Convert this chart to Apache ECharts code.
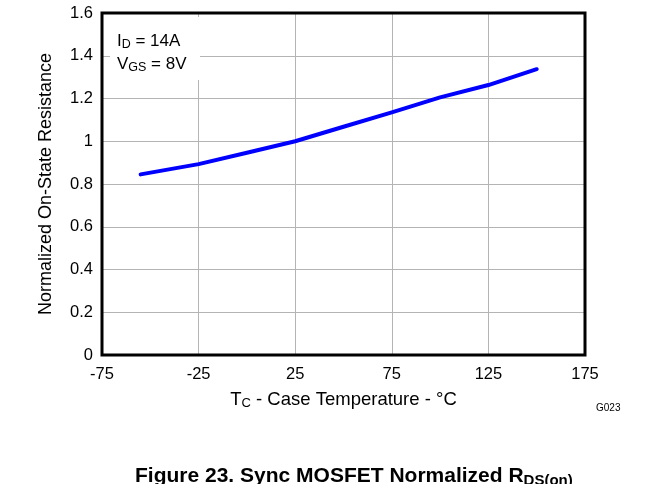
<!DOCTYPE html>
<html>
<head>
<meta charset="utf-8">
<script src="https://cdn.jsdelivr.net/npm/echarts@6/dist/echarts.min.js"></script>
<style>
html,body{margin:0;padding:0;background:#fff;}
#chart{width:652px;height:484px;}
</style>
</head>
<body>
<div id="chart"></div>
<script>
// Data
var temperatures = [-55, -25, 0, 25, 50, 75, 100, 125, 150];
var resistance = [0.845, 0.893, 0.946, 1.0, 1.068, 1.135, 1.205, 1.263, 1.337];
var xTicks = [-75, -25, 25, 75, 125, 175];
var yTicks = [0, 0.2, 0.4, 0.6, 0.8, 1, 1.2, 1.4, 1.6];

var G = {left: 102, right: 67, top: 13, bottom: 129};
var font = 'Liberation Sans, Arial, sans-serif';

var chart = echarts.init(document.getElementById('chart'), null, {renderer: 'canvas'});
var seriesData = temperatures.map(function (t, i) { return [t, resistance[i]]; });

chart.setOption({
  animation: false,
  backgroundColor: '#fff',
  grid: {left: G.left, right: G.right, top: G.top, bottom: G.bottom, containLabel: false},
  xAxis: {
    type: 'value', min: -75, max: 175, interval: 50,
    axisLine: {show: false}, axisTick: {show: false},
    splitLine: {show: true, lineStyle: {color: '#b4b4b4', width: 1}},
    axisLabel: {color: '#000', fontFamily: font, fontSize: 16.5, margin: 11,
      formatter: function (v) { return xTicks.indexOf(v) >= 0 ? String(v) : ''; }},
    name: '{n|T}{s|C}{n| - Case Temperature - °C}',
    nameLocation: 'middle', nameGap: 34,
    nameTextStyle: {rich: {
      n: {fontFamily: font, fontSize: 18.5, color: '#000'},
      s: {fontFamily: font, fontSize: 13, color: '#000', verticalAlign: 'bottom', padding: [8, 0, 0, 0]}
    }}
  },
  yAxis: {
    type: 'value', min: 0, max: 1.6, interval: 0.2,
    axisLine: {show: false}, axisTick: {show: false},
    splitLine: {show: true, lineStyle: {color: '#b4b4b4', width: 1}},
    axisLabel: {color: '#000', fontFamily: font, fontSize: 16.5, margin: 9,
      formatter: function (v) {
        var r = Math.round(v * 10) / 10;
        return yTicks.indexOf(r) >= 0 ? String(r) : '';
      }},
    name: 'Normalized On-State Resistance',
    nameLocation: 'middle', nameGap: 47, nameRotate: 90,
    nameTextStyle: {fontFamily: font, fontSize: 18, color: '#000'}
  },
  series: [{
    type: 'line', data: seriesData, showSymbol: false, smooth: false,
    lineStyle: {color: '#0000ff', width: 4, cap: 'round', join: 'round'},
    z: 3
  }],
  graphic: [
    {type: 'rect', z: 10, silent: true,
      shape: {x: G.left, y: G.top, width: 652 - G.left - G.right, height: 484 - G.top - G.bottom},
      style: {fill: 'none', stroke: '#000', lineWidth: 3}},
    {type: 'rect', z: 5, silent: true,
      shape: {x: 110, y: 17, width: 90, height: 63},
      style: {fill: '#fff'}},
    {type: 'text', z: 6, left: 117, top: 33, silent: true,
      style: {text: '{n|I}{s|D}{n| = 14A}', rich: {
        n: {fontFamily: font, fontSize: 17, fill: '#000'},
        s: {fontFamily: font, fontSize: 12.5, fill: '#000', verticalAlign: 'bottom', padding: [7, 0, 0, 0]}
      }}},
    {type: 'text', z: 6, left: 117, top: 56, silent: true,
      style: {text: '{n|V}{s|GS}{n| = 8V}', rich: {
        n: {fontFamily: font, fontSize: 17, fill: '#000'},
        s: {fontFamily: font, fontSize: 12.5, fill: '#000', verticalAlign: 'bottom', padding: [7, 0, 0, 0]}
      }}},
    {type: 'text', z: 6, left: 596, top: 403, silent: true,
      style: {text: 'G023', fontFamily: font, fontSize: 10, fill: '#000'}},
    {type: 'text', z: 6, left: 135, top: 466, silent: true,
      style: {text: '{n|Figure 23. Sync MOSFET Normalized R}{s|DS(on)}', rich: {
        n: {fontFamily: font, fontSize: 21, fontWeight: 'bold', fill: '#000'},
        s: {fontFamily: font, fontSize: 15, fontWeight: 'bold', fill: '#000', verticalAlign: 'bottom', padding: [9, 0, 0, 0]}
      }}}
  ]
});
</script>
</body>
</html>
